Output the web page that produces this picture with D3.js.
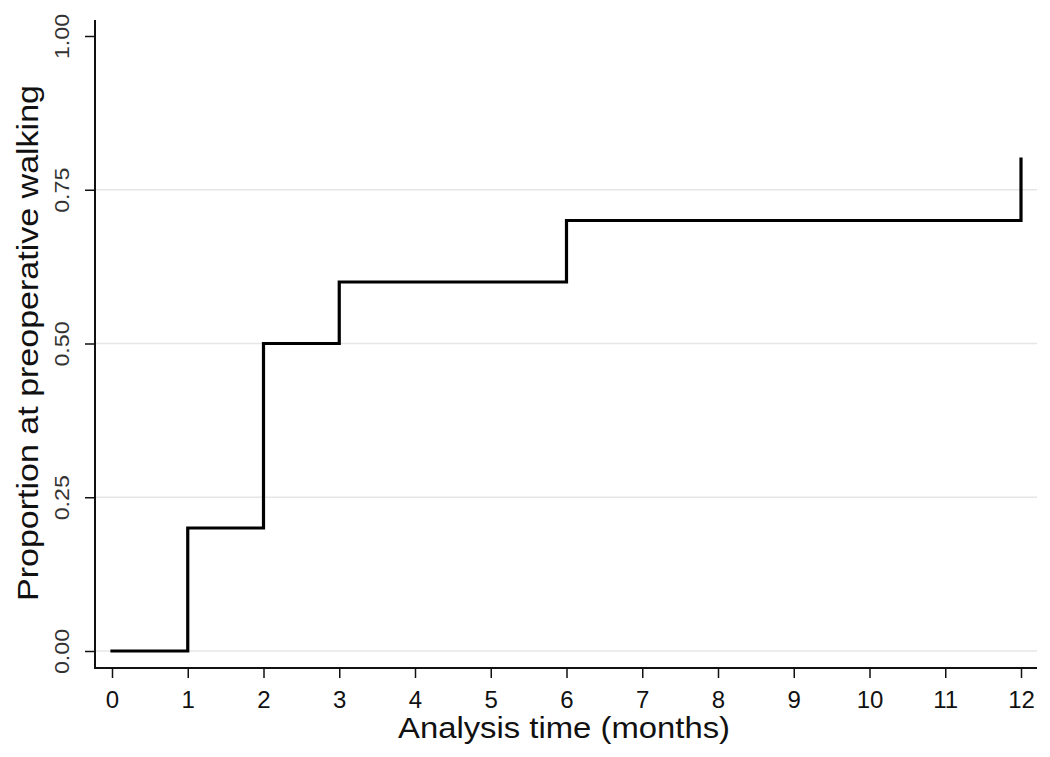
<!DOCTYPE html>
<html>
<head>
<meta charset="utf-8">
<script src="https://cdn.jsdelivr.net/npm/d3@7"></script>
<style>
  body { margin: 0; background: #fff; }
  svg { display: block; font-family: "Liberation Sans", Arial, sans-serif; }
</style>
</head>
<body>
<svg></svg>
<script>
"use strict";

// step times (months) and proportion reached at each
var times = [0, 1, 2, 3, 6, 12];
var proportions = [0, 0.2, 0.5, 0.6, 0.7, 0.8];
var xTicks = d3.range(0, 13);
var yTicks = [0, 0.25, 0.5, 0.75, 1];

var width = 1050, height = 757;
var svg = d3.select("svg").attr("width", width).attr("height", height);

var x = d3.scaleLinear().domain([0, 12]).range([112, 1021]);
var y = d3.scaleLinear().domain([0, 1]).range([651, 36]);

var axisX = 668, axisLeft = 95, axisRight = 1037, axisTop = 20;

// gridlines
svg.append("g").selectAll("line")
  .data(yTicks.filter(function (d) { return d < 1; }))
  .enter().append("line")
  .attr("x1", axisLeft).attr("x2", axisRight)
  .attr("y1", function (d) { return y(d); })
  .attr("y2", function (d) { return y(d); })
  .attr("stroke", "#e6e6e6").attr("stroke-width", 1.5);

// y axis
var yAxis = svg.append("g")
  .attr("transform", "translate(" + axisLeft + ",0)")
  .call(d3.axisLeft(y).tickValues(yTicks).tickSize(10).tickPadding(0).tickFormat(d3.format(".2f")));
yAxis.select(".domain").remove();
yAxis.selectAll(".tick line").attr("stroke", "#111").attr("stroke-width", 1.5);
yAxis.selectAll(".tick text")
  .attr("x", null).attr("dy", null)
  .attr("transform", "translate(-33,0) rotate(-90)")
  .attr("text-anchor", "middle")
  .attr("dominant-baseline", "central")
  .attr("font-size", 20).attr("fill", "#333")
  .attr("textLength", 45).attr("lengthAdjust", "spacingAndGlyphs");

// x axis
var xAxis = svg.append("g")
  .attr("transform", "translate(0," + axisX + ")")
  .call(d3.axisBottom(x).tickValues(xTicks).tickSize(10).tickPadding(13).tickFormat(d3.format("d")));
xAxis.select(".domain").remove();
xAxis.selectAll(".tick line").attr("stroke", "#111").attr("stroke-width", 1.5);
xAxis.selectAll(".tick text").attr("font-size", 24).attr("fill", "#111");

// axis lines
svg.append("line").attr("x1", axisLeft).attr("x2", axisLeft).attr("y1", axisTop).attr("y2", axisX + 1)
  .attr("stroke", "#111").attr("stroke-width", 2);
svg.append("line").attr("x1", axisLeft - 1).attr("x2", axisRight).attr("y1", axisX).attr("y2", axisX)
  .attr("stroke", "#111").attr("stroke-width", 2);

// step curve
var pts = times.map(function (t, i) { return [t, proportions[i]]; });
var line = d3.line()
  .x(function (d) { return x(d[0]); })
  .y(function (d) { return y(d[1]); })
  .curve(d3.curveStepAfter);
svg.append("path").datum(pts)
  .attr("d", line)
  .attr("fill", "none").attr("stroke", "#000").attr("stroke-width", 3.2)
  .attr("stroke-linejoin", "miter").attr("stroke-linecap", "square");

// titles
svg.append("text")
  .attr("x", 398).attr("y", 738)
  .attr("font-size", 29).attr("fill", "#111")
  .attr("textLength", 332).attr("lengthAdjust", "spacingAndGlyphs")
  .text("Analysis time (months)");

svg.append("text")
  .attr("transform", "translate(38,601) rotate(-90)")
  .attr("font-size", 30).attr("fill", "#111")
  .attr("textLength", 516).attr("lengthAdjust", "spacingAndGlyphs")
  .text("Proportion at preoperative walking");
</script>
</body>
</html>
